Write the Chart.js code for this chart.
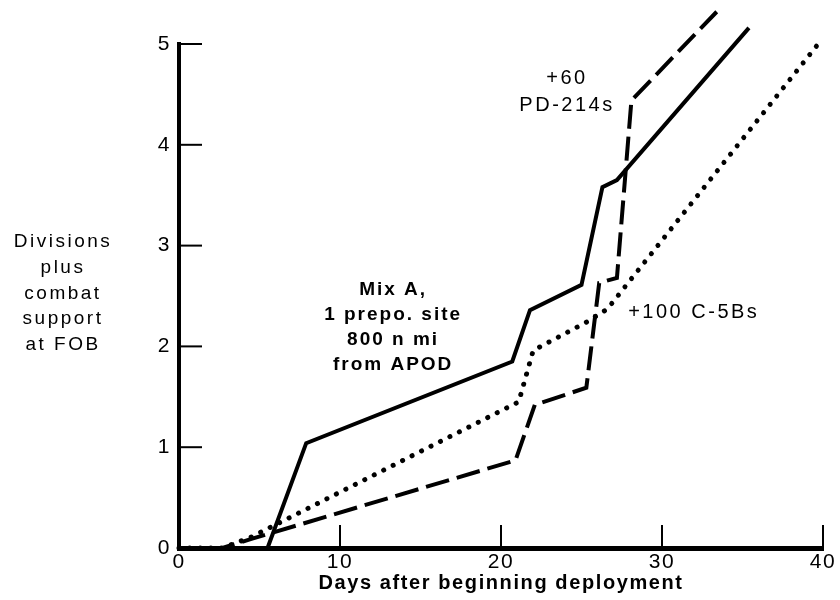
<!DOCTYPE html>
<html>
<head>
<meta charset="utf-8">
<script src="https://cdn.jsdelivr.net/npm/chart.js@4/dist/chart.umd.min.js"></script>
<style>
  html, body { margin: 0; padding: 0; background: #fff; }
  #wrap { width: 840px; height: 600px; }
</style>
</head>
<body>
<div id="wrap"><canvas id="DeploymentChart"></canvas></div>
<script>
// days / divisions
const solidDays = [0, 5.5, 7.9, 20.7, 21.8, 25.0, 26.3, 27.2, 35.4];
const solidDivs = [0, 0, 1.04, 1.85, 2.36, 2.61, 3.58, 3.65, 5.16];
const dashDays = [0, 2.7, 4.5, 20.9, 22.1, 25.3, 26.1, 27.2, 28.1, 33.4];
const dashDivs = [0, 0, 0.09, 0.87, 1.42, 1.59, 2.63, 2.68, 4.44, 5.32];
const dotDays = [0, 2.7, 4.5, 21.1, 22.0, 25.3, 26.6, 39.8];
const dotDivs = [0, 0, 0.11, 1.45, 1.96, 2.24, 2.37, 5.02];
const xTicks = [0, 10, 20, 30, 40];
const yTicks = [0, 1, 2, 3, 4, 5];

const xTitle = "Days after beginning deployment";
const yTitleLines = ["Divisions", "plus", "combat", "support", "at FOB"];
const mixLabel = ["Mix A,", "1 prepo. site", "800 n mi", "from APOD"];
const pdLabel = ["+60", "PD-214s"];
const c5Label = ["+100 C-5Bs"];

const FONT = '"Liberation Sans", Arial, sans-serif';

function toPoints(xs, ys) {
    const pts = [];
    for (let i = 0; i < xs.length; i++) pts.push({ x: xs[i], y: ys[i] });
    return pts;
}

// inward tick marks, axis titles and the notes on the plot
const extras = {
    id: 'extras',
    beforeDraw(chart) {
        chart.ctx.letterSpacing = '1.5px';
    },
    afterDraw(chart) {
        const ctx = chart.ctx;
        const xs = chart.scales.x, ys = chart.scales.y;
        const area = chart.chartArea;
        ctx.save();
        ctx.strokeStyle = '#000';
        ctx.lineWidth = 2;
        yTicks.forEach(v => {
            if (v === 0) return;
            const p = ys.getPixelForValue(v);
            ctx.beginPath(); ctx.moveTo(area.left, p); ctx.lineTo(area.left + 23, p); ctx.stroke();
        });
        xTicks.forEach(v => {
            if (v === 0) return;
            const p = xs.getPixelForValue(v);
            ctx.beginPath(); ctx.moveTo(p, area.bottom); ctx.lineTo(p, area.bottom - 23); ctx.stroke();
        });

        ctx.fillStyle = '#000';
        ctx.textAlign = 'center';
        ctx.textBaseline = 'middle';

        ctx.letterSpacing = '1.6px';
        ctx.font = 'bold 20px ' + FONT;
        ctx.fillText(xTitle, (area.left + area.right) / 2, 583);

        ctx.letterSpacing = '2.5px';
        ctx.font = '19px ' + FONT;
        yTitleLines.forEach((t, i) => ctx.fillText(t, 63, 242 + i * 25.7));

        function note(lines, dx, dy, font, gap, align) {
            ctx.font = font;
            ctx.textAlign = align;
            const px = xs.getPixelForValue(dx), py = ys.getPixelForValue(dy);
            lines.forEach((t, i) => ctx.fillText(t, px, py + i * gap));
        }
        ctx.letterSpacing = '2px';
        note(mixLabel, 13.3, 2.56, 'bold 19px ' + FONT, 25, 'center');
        ctx.letterSpacing = '2.5px';
        note(pdLabel, 24.1, 4.66, '20px ' + FONT, 27, 'center');
        note(c5Label, 27.9, 2.34, '20px ' + FONT, 25, 'left');
        ctx.restore();
    }
};

function CreateChart() {
    const ctx = document.getElementById('DeploymentChart');
    new Chart(ctx, {
        type: 'scatter',
        data: {
            datasets: [
                {
                    label: 'Solid',
                    data: toPoints(solidDays, solidDivs),
                    showLine: true,
                    borderColor: '#000',
                    borderWidth: 4,
                    borderJoinStyle: 'miter',
                    pointRadius: 0,
                    clip: false
                },
                {
                    label: 'Dashed',
                    data: toPoints(dashDays, dashDivs),
                    showLine: true,
                    borderColor: '#000',
                    borderWidth: 4,
                    borderDash: [24, 8],
                    pointRadius: 0,
                    clip: false
                },
                {
                    label: 'Dotted',
                    data: toPoints(dotDays, dotDivs),
                    showLine: true,
                    borderColor: '#000',
                    borderWidth: 5,
                    borderDash: [0.1, 10.5],
                    borderCapStyle: 'round',
                    pointRadius: 0,
                    clip: false
                }
            ]
        },
        options: {
            responsive: true,
            maintainAspectRatio: false,
            animation: false,
            layout: { padding: { top: 44, right: 17, left: 0, bottom: 0 } },
            plugins: { legend: { display: false }, tooltip: { enabled: false } },
            scales: {
                x: {
                    type: 'linear',
                    min: 0, max: 40,
                    afterBuildTicks: s => { s.ticks = xTicks.map(v => ({ value: v })); },
                    afterFit: s => { s.height = 52; },
                    grid: { display: false, drawTicks: false },
                    border: { display: true, color: '#000', width: 5 },
                    ticks: { color: '#000', padding: 2, font: { family: FONT, size: 21 } }
                },
                y: {
                    type: 'linear',
                    min: 0, max: 5,
                    afterBuildTicks: s => { s.ticks = yTicks.map(v => ({ value: v })); },
                    afterFit: s => { s.width = 179; },
                    grid: { display: false, drawTicks: false },
                    border: { display: true, color: '#000', width: 4 },
                    ticks: { color: '#000', padding: 8, font: { family: FONT, size: 21 } }
                }
            }
        },
        plugins: [extras]
    });
}

CreateChart();
</script>
</body>
</html>
